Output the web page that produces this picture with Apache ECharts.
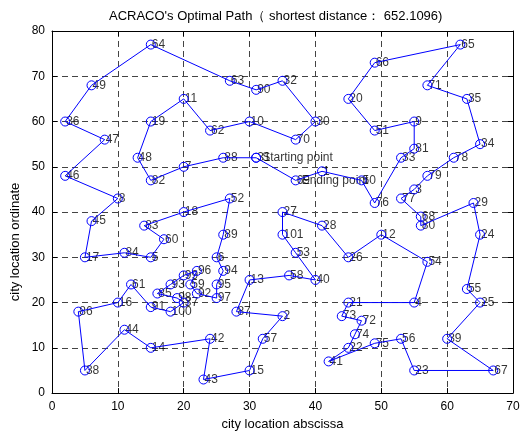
<!DOCTYPE html>
<html><head><meta charset="utf-8">
<script src="https://cdn.jsdelivr.net/npm/echarts@6/dist/echarts.min.js"></script>
<style>html,body{margin:0;padding:0;background:#fff}#c{width:525px;height:436px}</style>
</head><body><div id="c"></div>
<script>
// City coordinates (index = city number - 1)
const cityX = [41,35,55,55,15,25,20,10,55,30,
  20,50,30,15,30,10,5,20,15,45,
  45,45,55,65,65,45,35,41,64,40,
  31,35,53,65,63,2,20,5,60,40,
  42,24,23,11,6,2,8,13,6,47,
  49,27,37,57,63,53,32,36,21,17,
  12,24,27,15,62,49,67,56,37,37,
  57,47,44,46,49,49,53,61,57,56,
  55,15,14,11,16,4,28,26,26,31,
  15,22,18,26,25,22,25,19,20,18,
  35];
const cityY = [49,17,45,20,30,30,50,43,60,60,
  65,35,25,10,5,20,30,40,60,65,
  20,10,5,35,20,30,40,37,42,60,
  52,69,52,55,65,60,20,5,12,25,
  7,12,3,14,38,48,56,52,68,47,
  58,43,31,29,23,12,12,26,24,34,
  24,58,69,77,77,73,5,39,47,56,
  68,16,17,13,11,42,43,52,48,37,
  54,47,37,31,22,18,18,52,35,67,
  19,22,24,27,24,27,21,21,26,18,
  35];
// Tour order (city numbers), closed back to start
const tourOrder = [31,88,7,82,48,19,11,62,10,70,30,32,90,63,64,49,36,47,46,8,
  45,17,84,5,60,83,18,52,89,6,94,95,97,92,59,96,99,93,85,98,
  37,100,91,61,16,86,38,44,14,42,43,15,57,2,87,13,58,40,53,101,
  27,28,26,12,54,4,21,73,72,74,22,41,75,56,23,67,39,25,55,24,
  29,80,68,77,3,79,78,34,35,71,65,66,20,51,9,81,33,76,50,1,69,31];
const startCity = 31, endCity = 69;
const titleText = "ACRACO's Optimal Path\uFF08 shortest distance\uFF1A 652.1096)";
const xName = 'city location abscissa';
const yName = 'city location ordinate';

const FONT = '"Liberation Sans", Arial, Helvetica, sans-serif';
const pathData = tourOrder.map(c => [cityX[c-1], cityY[c-1]]);
const labelData = cityX.map((x, i) => ({value: [x, cityY[i]], name: String(i+1)}));
const noteData = [
  {value: [cityX[startCity-1], cityY[startCity-1]], name: 'Starting point'},
  {value: [cityX[endCity-1], cityY[endCity-1]], name: 'Ending point'}
];

const chart = echarts.init(document.getElementById('c'), null, {renderer: 'canvas'});
const axisCommon = {
  type: 'value',
  axisLine: {show: true, onZero: false, lineStyle: {color: '#000', width: 1}},
  axisTick: {show: true, inside: true, length: 5, lineStyle: {color: '#000'}},
};
chart.setOption({
  animation: false,
  backgroundColor: '#fff',
  title: {text: titleText, left: 104, top: 5,
    textStyle: {fontFamily: FONT, fontSize: 13, fontWeight: 'normal', color: '#000'}},
  grid: {left: 52, right: 12, top: 31, bottom: 42, containLabel: false},
  graphic: [{
    type: 'text', x: 15, y: 242, rotation: Math.PI / 2,
    style: {text: yName, font: '13px ' + FONT, fill: '#000',
      textAlign: 'center', textVerticalAlign: 'middle'}
  }],
  xAxis: [
    Object.assign({}, axisCommon, {position: 'bottom', min: 0, max: 70, interval: 10,
      name: xName, nameLocation: 'middle', nameGap: 24,
      nameTextStyle: {fontFamily: FONT, fontSize: 13, color: '#000'},
      axisLabel: {fontFamily: FONT, fontSize: 12, color: '#000', margin: 8},
      splitLine: {show: true, lineStyle: {color: '#444', type: [6, 4], width: 1}}}),
    Object.assign({}, axisCommon, {position: 'top', min: 0, max: 70, interval: 10,
      axisLabel: {show: false}, splitLine: {show: false}})
  ],
  yAxis: [
    Object.assign({}, axisCommon, {position: 'left', min: 0, max: 80, interval: 10,
      axisLabel: {fontFamily: FONT, fontSize: 12, color: '#000', margin: 7},
      splitLine: {show: true, lineStyle: {color: '#444', type: [6, 4], width: 1}}}),
    Object.assign({}, axisCommon, {position: 'right', min: 0, max: 80, interval: 10,
      axisLabel: {show: false}, splitLine: {show: false}})
  ],
  series: [
    {
      type: 'line', xAxisIndex: 0, yAxisIndex: 0, data: pathData,
      symbol: 'circle', symbolSize: 9, showAllSymbol: true,
      lineStyle: {color: '#0000ff', width: 1},
      itemStyle: {color: 'rgba(0,0,0,0)', borderColor: '#0000ff', borderWidth: 1},
      label: {show: false}, silent: true
    },
    {
      type: 'scatter', xAxisIndex: 0, yAxisIndex: 0, data: labelData,
      symbolSize: 1, itemStyle: {color: 'rgba(0,0,0,0)'}, silent: true,
      label: {show: true, position: 'inside', align: 'left', verticalAlign: 'middle',
        offset: [1, 0], formatter: p => p.name,
        fontFamily: FONT, fontSize: 12, color: '#000'}
    },
    {
      type: 'scatter', xAxisIndex: 0, yAxisIndex: 0, data: noteData,
      symbolSize: 1, itemStyle: {color: 'rgba(0,0,0,0)'}, silent: true,
      label: {show: true, position: 'inside', align: 'left', verticalAlign: 'middle',
        offset: [6, 0], formatter: p => p.name,
        fontFamily: FONT, fontSize: 12, color: '#000'}
    }
  ]
});
</script>
</body></html>
